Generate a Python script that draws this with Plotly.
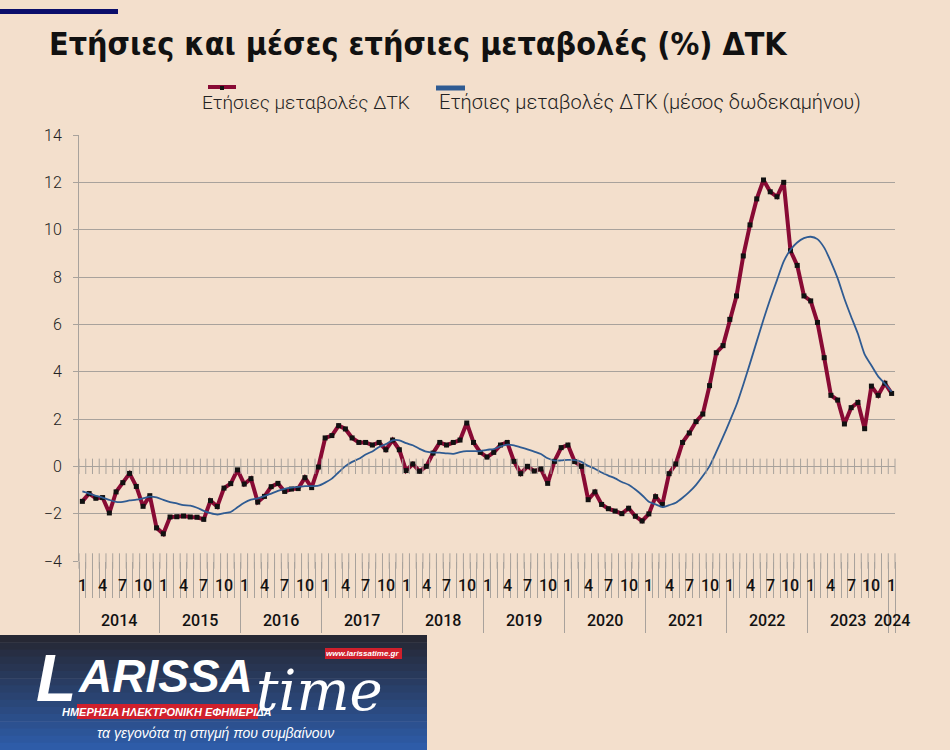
import plotly.graph_objects as go

# ---------------- data ----------------
years = ["2014", "2015", "2016", "2017", "2018", "2019", "2020", "2021", "2022", "2023", "2024"]
months_in_year = [12, 12, 12, 12, 12, 12, 12, 12, 12, 12, 1]
labelled_months = [1, 4, 7, 10]

annual_change = [
    -1.48, -1.15, -1.35, -1.32, -1.97, -1.08, -0.69, -0.30, -0.85, -1.69, -1.24, -2.60,
    -2.85, -2.14, -2.13, -2.10, -2.14, -2.15, -2.24, -1.45, -1.70, -0.92, -0.73, -0.15,
    -0.75, -0.52, -1.51, -1.27, -0.86, -0.72, -1.06, -0.96, -0.94, -0.48, -0.90, -0.03,
    1.20, 1.30, 1.72, 1.58, 1.20, 1.01, 1.01, 0.90, 1.01, 0.70, 1.11, 0.70,
    -0.18, 0.10, -0.21, 0.00, 0.56, 1.01, 0.90, 1.01, 1.11, 1.83, 1.01, 0.59,
    0.39, 0.59, 0.90, 1.01, 0.21, -0.31, 0.00, -0.20, -0.11, -0.72, 0.21, 0.79,
    0.90, 0.20, 0.00, -1.41, -1.08, -1.61, -1.79, -1.89, -2.00, -1.77, -2.11, -2.31,
    -2.01, -1.28, -1.61, -0.31, 0.10, 1.01, 1.41, 1.89, 2.21, 3.41, 4.80, 5.10,
    6.21, 7.20, 8.89, 10.20, 11.30, 12.10, 11.60, 11.39, 12.00, 9.11, 8.49, 7.20,
    6.99, 6.08, 4.59, 3.00, 2.80, 1.79, 2.48, 2.70, 1.59, 3.39, 3.00, 3.51,
    3.08,
]

avg_12m = [
    -1.06, -1.15, -1.25, -1.32, -1.42, -1.50, -1.50, -1.44, -1.41, -1.35, -1.28, -1.31,
    -1.42, -1.51, -1.57, -1.64, -1.66, -1.75, -1.88, -1.98, -2.04, -1.98, -1.93, -1.73,
    -1.54, -1.41, -1.35, -1.26, -1.15, -1.04, -0.95, -0.90, -0.87, -0.84, -0.84, -0.82,
    -0.69, -0.52, -0.25, 0.01, 0.19, 0.32, 0.50, 0.63, 0.82, 0.94, 1.10, 1.10,
    0.98, 0.89, 0.74, 0.62, 0.58, 0.58, 0.55, 0.53, 0.60, 0.64, 0.64, 0.64,
    0.70, 0.73, 0.84, 0.92, 0.89, 0.80, 0.72, 0.62, 0.52, 0.34, 0.24, 0.25,
    0.27, 0.26, 0.19, 0.02, -0.10, -0.26, -0.39, -0.51, -0.66, -0.78, -0.98, -1.22,
    -1.50, -1.61, -1.72, -1.64, -1.54, -1.33, -1.08, -0.78, -0.41, 0.01, 0.61, 1.24,
    1.91, 2.60, 3.45, 4.35, 5.28, 6.20, 7.07, 7.87, 8.66, 9.15, 9.46, 9.64,
    9.70, 9.60, 9.24, 8.64, 7.94, 7.08, 6.32, 5.60, 4.73, 4.26, 3.80, 3.49,
    3.16,
]

y_ticks = [-4, -2, 0, 2, 4, 6, 8, 10, 12, 14]

title_text = "Ετήσιες και μέσες ετήσιες μεταβολές (%) ΔΤΚ"
series_names = ["Ετήσιες μεταβολές ΔΤΚ", "Ετήσιες μεταβολές ΔΤΚ (μέσος δωδεκαμήνου)"]

# ---------------- derived positions ----------------
month_num = []
for y, n in zip(years, months_in_year):
    for m in range(1, n + 1):
        month_num.append(m)
x_idx = list(range(len(month_num)))
boundaries = [i - 0.5 for i in range(len(x_idx) + 1)]
year_bounds = []
start = 0
for n in months_in_year:
    year_bounds.append(start - 0.5)
    start += n
year_bounds.append(start - 0.5)

# ---------------- layout geometry ----------------
W, H = 950, 750
ML, MR, MT, MB = 79, 55, 135, 189
PW, PH = W - ML - MR, H - MT - MB


def px_x(px):
    return (px - ML) / PW


def px_y(py):
    return (H - MB - py) / PH


BG = "#F3DFCC"
GRID = "#A8A29C"
RED = "#880A34"
BLUE = "#2F5B92"
SANS = "Roboto"
TITLEFONT = "DejaVu Sans Condensed, Roboto"

fig = go.Figure()

fig.add_trace(go.Scatter(
    x=x_idx, y=annual_change, mode="lines+markers", name=series_names[0],
    line=dict(color=RED, width=4),
    marker=dict(symbol="square", size=5, color="#111111"),
    showlegend=False,
))
fig.add_trace(go.Scatter(
    x=x_idx, y=avg_12m, mode="lines", name=series_names[1],
    line=dict(color=BLUE, width=1.8, shape="spline", smoothing=0.6),
    showlegend=False,
))
# tick marks crossing the zero line and the bottom line
fig.add_trace(go.Scatter(
    x=boundaries + boundaries, y=[0] * len(boundaries) + [y_ticks[0]] * len(boundaries),
    mode="markers", hoverinfo="skip", showlegend=False, cliponaxis=False,
    marker=dict(symbol="line-ns", size=11, color=GRID, line=dict(color=GRID, width=1)),
))

annotations = []
# month labels
for i, m in zip(x_idx, month_num):
    if m in labelled_months:
        annotations.append(dict(
            x=i, xref="x", y=px_y(585), yref="paper", text=str(m), showarrow=False,
            xanchor="center", yanchor="middle",
            font=dict(family=SANS, size=16, color="#111111", weight=500),
        ))
# year labels
for k, y in enumerate(years):
    cx = (year_bounds[k] + year_bounds[k + 1]) / 2
    annotations.append(dict(
        x=cx, xref="x", y=px_y(620), yref="paper", text=y, showarrow=False,
        xanchor="center", yanchor="middle",
        font=dict(family=SANS, size=16, color="#111111", weight=500),
    ))

# title
annotations.append(dict(
    x=px_x(47), xref="paper", y=px_y(44), yref="paper", text=title_text,
    showarrow=False, xanchor="left", yanchor="middle",
    font=dict(family=TITLEFONT, size=32, color="#111111", weight="bold"),
))
# legend texts
annotations.append(dict(
    x=px_x(306), xref="paper", y=px_y(102), yref="paper", text=series_names[0],
    showarrow=False, xanchor="center", yanchor="middle",
    font=dict(family=SANS, size=19, color="#222222", weight=300),
))
annotations.append(dict(
    x=px_x(650), xref="paper", y=px_y(102), yref="paper", text=series_names[1],
    showarrow=False, xanchor="center", yanchor="middle",
    font=dict(family=SANS, size=20, color="#222222", weight=300),
))

shapes = []
# top navy accent bar
shapes.append(dict(type="rect", xref="paper", yref="paper",
                   x0=px_x(0), x1=px_x(118), y0=px_y(14), y1=px_y(9),
                   fillcolor="#0B0E6B", line=dict(width=0)))
# legend symbols
shapes.append(dict(type="line", xref="paper", yref="paper",
                   x0=px_x(208), x1=px_x(236), y0=px_y(87), y1=px_y(87),
                   line=dict(color=RED, width=4)))
shapes.append(dict(type="rect", xref="paper", yref="paper",
                   x0=px_x(220), x1=px_x(224), y0=px_y(90), y1=px_y(86),
                   fillcolor="#111111", line=dict(width=0)))
shapes.append(dict(type="line", xref="paper", yref="paper",
                   x0=px_x(436), x1=px_x(465), y0=px_y(88), y1=px_y(88),
                   line=dict(color=BLUE, width=5)))

# logo box with vertical gradient
top_c = (38, 40, 52)
bot_c = (46, 92, 168)
nstrip = 16
y_top, y_bot = 635, 750
for s in range(nstrip):
    t = s / (nstrip - 1)
    c = tuple(int(top_c[j] + (bot_c[j] - top_c[j]) * t) for j in range(3))
    ya = y_top + (y_bot - y_top) * s / nstrip
    yb = y_top + (y_bot - y_top) * (s + 1) / nstrip + 0.6
    shapes.append(dict(type="rect", xref="paper", yref="paper", layer="above",
                       x0=px_x(0), x1=px_x(427), y0=px_y(yb), y1=px_y(ya),
                       fillcolor="rgb(%d,%d,%d)" % c, line=dict(width=0)))
# red labels in the logo
shapes.append(dict(type="rect", xref="paper", yref="paper", layer="above",
                   x0=px_x(77), x1=px_x(258), y0=px_y(719), y1=px_y(704),
                   fillcolor="#D0202C", line=dict(width=0)))
shapes.append(dict(type="rect", xref="paper", yref="paper", layer="above",
                   x0=px_x(325), x1=px_x(402), y0=px_y(659), y1=px_y(648),
                   fillcolor="#D0202C", line=dict(width=0)))

annotations += [
    dict(x=px_x(34), xref="paper", y=px_y(678), yref="paper", text="L",
         showarrow=False, xanchor="left", yanchor="middle",
         font=dict(family="Liberation Sans", size=66, color="white",
                   weight="bold", style="italic")),
    dict(x=px_x(76), xref="paper", y=px_y(676), yref="paper", text="ARISSA",
         showarrow=False, xanchor="left", yanchor="middle",
         font=dict(family="Liberation Sans", size=46, color="white",
                   weight="bold", style="italic")),
    dict(x=px_x(254), xref="paper", y=px_y(690), yref="paper", text="time",
         showarrow=False, xanchor="left", yanchor="middle",
         font=dict(family="DejaVu Serif", size=56, color="white", style="italic")),
    dict(x=px_x(167), xref="paper", y=px_y(712), yref="paper",
         text="ΗΜΕΡΗΣΙΑ ΗΛΕΚΤΡΟΝΙΚΗ ΕΦΗΜΕΡΙΔΑ",
         showarrow=False, xanchor="center", yanchor="middle",
         font=dict(family="Liberation Sans", size=11, color="white",
                   weight="bold", style="italic")),
    dict(x=px_x(363), xref="paper", y=px_y(653.5), yref="paper",
         text="www.larissatime.gr",
         showarrow=False, xanchor="center", yanchor="middle",
         font=dict(family="Liberation Sans", size=8, color="white",
                   weight="bold", style="italic")),
    dict(x=px_x(215), xref="paper", y=px_y(733), yref="paper",
         text="τα γεγονότα τη στιγμή που συμβαίνουν",
         showarrow=False, xanchor="center", yanchor="middle",
         font=dict(family="Liberation Sans", size=14, color="white", style="italic")),
]

fig.update_layout(
    width=W, height=H,
    margin=dict(l=ML, r=MR, t=MT, b=MB, pad=0),
    paper_bgcolor=BG, plot_bgcolor=BG,
    showlegend=False,
    annotations=annotations,
    shapes=shapes,
    xaxis=dict(
        range=[boundaries[0], boundaries[-1]],
        showgrid=False, zeroline=False, showline=False,
        tickmode="array", tickvals=year_bounds, ticks="outside", ticklen=71,
        tickcolor=GRID, tickwidth=1, showticklabels=False,
        minor=dict(tickmode="array", tickvals=boundaries, ticks="outside", ticklen=36,
                   tickcolor=GRID, tickwidth=1, showgrid=False),
        fixedrange=True,
    ),
    yaxis=dict(
        range=[y_ticks[0], y_ticks[-1]],
        tickmode="array", tickvals=y_ticks,
        showgrid=True, gridcolor=GRID, gridwidth=1,
        zeroline=False, showline=True, linecolor=GRID, linewidth=1,
        ticks="outside", ticklen=5, tickcolor=GRID,
        ticklabelstandoff=8,
        tickfont=dict(family=SANS, size=16, color="#222222", weight=300),
        fixedrange=True,
    ),
)

fig.write_html("out.html", config={"displayModeBar": False},
               post_script="document.body.style.margin='0';")
